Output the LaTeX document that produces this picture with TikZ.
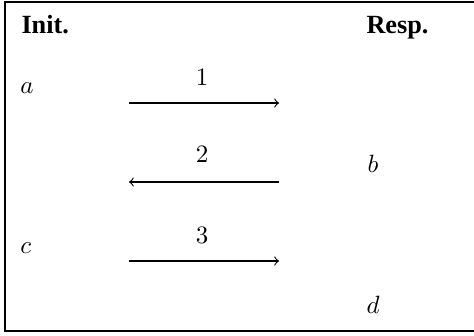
\documentclass[tikz,border=0pt]{standalone}
\usepackage{fontspec}
\newfontfamily\hdrfont{LiberationSerif}[Extension=.ttf,UprightFont=*-Regular,BoldFont=*-Bold]
\begin{document}
\begin{tikzpicture}[x=0.4pt,y=-0.4pt,
  hdr/.style={inner sep=0pt,anchor=base west,font=\hdrfont\bfseries\fontsize{10.5}{12}\selectfont},
  lbl/.style={inner sep=0pt,anchor=base west},
  num/.style={inner sep=0pt,anchor=base},
  msg/.style={line width=0.45pt,->}]
\useasboundingbox (0,0) rectangle (474,335);
\clip (0,0) rectangle (474,335);
\draw[line width=0.6pt] (5,2) rectangle (490,331);
\node[hdr] (init) at (21,33) {Init.};
\node[hdr] (resp) at (366,33) {Resp.};
\node[lbl] (a) at (20,93) {$a$};
\node[lbl] (b) at (367,172) {$b$};
\node[lbl] (c) at (20,253) {$c$};
\node[lbl] (d) at (366,313) {$d$};
\node[num] (n1) at (202,85) {$1$};
\node[num] (n2) at (202,162) {$2$};
\node[num] (n3) at (202,243) {$3$};
\coordinate (l1) at (129,103);
\coordinate (r1) at (279,103);
\coordinate (l2) at (129,182);
\coordinate (r2) at (279,182);
\coordinate (l3) at (129,261);
\coordinate (r3) at (279,261);
\draw[msg] (l1) -- (r1);
\draw[msg] (r2) -- (l2);
\draw[msg] (l3) -- (r3);
\end{tikzpicture}
\end{document}
